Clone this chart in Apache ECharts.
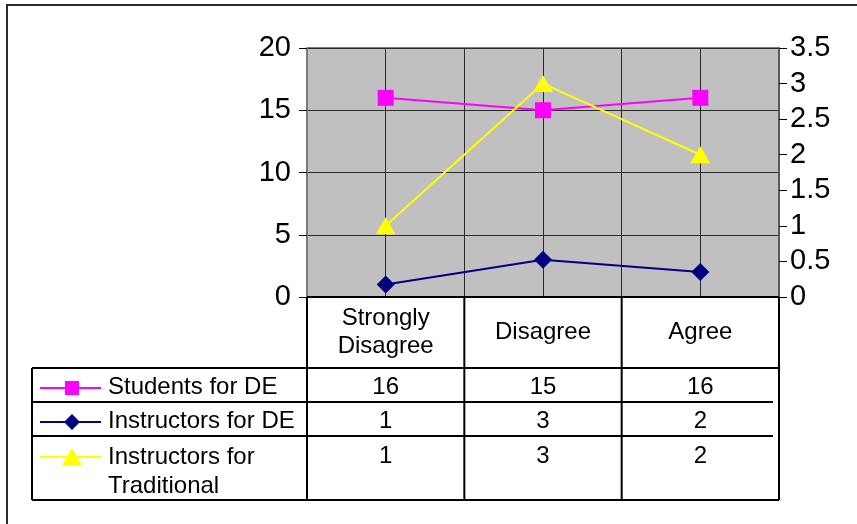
<!DOCTYPE html>
<html>
<head>
<meta charset="utf-8">
<script src="https://cdn.jsdelivr.net/npm/echarts@6/dist/echarts.min.js"></script>
<style>
  html, body { margin: 0; padding: 0; background: #fff; }
  #chart { width: 857px; height: 524px; }
</style>
</head>
<body>
<div id="chart"></div>
<script>
// Survey responses by agreement level
const categories = ['Strongly\nDisagree', 'Disagree', 'Agree'];
const seriesNames = ['Students for DE', 'Instructors for DE', 'Instructors for\nTraditional'];
const studentsDE = [16, 15, 16];
const instructorsDE = [1, 3, 2];
const instructorsTraditional = [1, 3, 2];
// Axis scales (left: students/instructors for DE, right: instructors for traditional)
const leftAxisTicks = { min: 0, max: 20, interval: 5 };
const rightAxisTicks = { min: 0, max: 3.5, interval: 0.5 };

const FONT = '"Liberation Sans", Arial, sans-serif';
const TABLE_FONT_SIZE = 24;
const AXIS_FONT_SIZE = 29;
const colors = ['#FF00FF', '#000080', '#FFFF00'];
const symbols = ['rect', 'diamond', 'triangle'];
const symbolSizes = [[16, 16], [18, 18], [20, 17]];
const seriesData = [studentsDE, instructorsDE, instructorsTraditional];
const seriesAxis = [0, 0, 1];

const chart = echarts.init(document.getElementById('chart'), null, { renderer: 'canvas' });

const baseOption = {
  animation: false,
  grid: {
    left: 307, right: 78, top: 48, bottom: 227,
    show: true, backgroundColor: '#C0C0C0', borderColor: '#000', borderWidth: 1
  },
  xAxis: [
    {
      type: 'category', data: categories, boundaryGap: true, position: 'bottom',
      axisLine: { show: false }, axisTick: { show: false, interval: 0 },
      axisLabel: {
        interval: 0, margin: 35, verticalAlign: 'middle', lineHeight: 28,
        fontFamily: FONT, fontSize: TABLE_FONT_SIZE, color: '#000'
      },
      splitLine: { show: true, interval: 0, lineStyle: { color: '#000', width: 1 } }
    },
    {
      // half-category gridlines through each category centre
      type: 'value', min: 0, max: categories.length, interval: 0.5, position: 'top',
      axisLine: { show: false }, axisTick: { show: false }, axisLabel: { show: false },
      splitLine: { show: true, lineStyle: { color: '#2a2a2a', width: 1 } }
    }
  ],
  yAxis: [
    {
      type: 'value', position: 'left', ...leftAxisTicks,
      axisLine: { show: true, lineStyle: { color: '#7a7a7a', width: 2 } },
      axisTick: { show: true, length: 8, lineStyle: { color: '#000', width: 1 } },
      axisLabel: { margin: 16, fontFamily: FONT, fontSize: AXIS_FONT_SIZE, color: '#000' },
      splitLine: { show: true, lineStyle: { color: '#2a2a2a', width: 1 } }
    },
    {
      type: 'value', position: 'right', ...rightAxisTicks,
      axisLine: { show: true, lineStyle: { color: '#5a5a5a', width: 2 } },
      axisTick: { show: true, length: 8, lineStyle: { color: '#000', width: 1 } },
      axisLabel: { margin: 11, fontFamily: FONT, fontSize: AXIS_FONT_SIZE, color: '#000' },
      splitLine: { show: false }
    }
  ],
  series: seriesNames.map((name, i) => ({
    name: name,
    type: 'line',
    data: seriesData[i],
    xAxisIndex: 0,
    yAxisIndex: seriesAxis[i],
    symbol: symbols[i],
    symbolSize: symbolSizes[i],
    showAllSymbol: true,
    z: 3 + i,
    lineStyle: { color: colors[i], width: 2 },
    itemStyle: { color: colors[i], borderWidth: 0 }
  }))
};

chart.setOption(baseOption);

// Data table beneath the plot, aligned with the category scale
const edgeX = v => chart.convertToPixel({ xAxisIndex: 1 }, v);
const centreX = i => chart.convertToPixel({ xAxisIndex: 0 }, i);
const plotBottom = chart.convertToPixel({ yAxisIndex: 0 }, leftAxisTicks.min);

const tableLeft = 32;
const rowEdges = [368, 402, 436, 500];
const rowTextY = [387, 421, 456];
const keyY = [388, 422, 457];
const tableRight = edgeX(categories.length);

const graphics = [];
const line = (x1, y1, x2, y2, w, c) => graphics.push({
  type: 'line', silent: true, z: 10,
  shape: { x1: x1, y1: y1, x2: x2, y2: y2 },
  style: { stroke: c || '#000', lineWidth: w || 2 }
});

// outer frame
graphics.push({
  type: 'rect', silent: true, z: 0,
  shape: { x: 7, y: 5, width: 900, height: 600 },
  style: { fill: 'none', stroke: '#2a2a2a', lineWidth: 2 }
});

// table rules
line(edgeX(0), plotBottom, tableRight, plotBottom, 2);
for (let k = 0; k <= categories.length; k++) {
  line(edgeX(k), plotBottom, edgeX(k), rowEdges[rowEdges.length - 1], 2);
}
rowEdges.forEach((y, r) => {
  // inner row separators stop just short of the right border
  const inner = r > 0 && r < rowEdges.length - 1;
  line(tableLeft, y, inner ? tableRight - 6 : tableRight, y, 2);
});
line(tableLeft, rowEdges[0], tableLeft, rowEdges[rowEdges.length - 1], 2);

// legend keys and row labels
const keyX1 = 40, keyX2 = 101, keyMid = 72;
seriesNames.forEach((name, i) => {
  line(keyX1, keyY[i], keyX2, keyY[i], 2, colors[i]);
  if (i === 0) {
    graphics.push({ type: 'rect', silent: true, z: 11,
      shape: { x: keyMid - 7, y: keyY[i] - 7, width: 14, height: 14 },
      style: { fill: colors[i] } });
  } else if (i === 1) {
    graphics.push({ type: 'polygon', silent: true, z: 11,
      shape: { points: [[keyMid, keyY[i] - 8], [keyMid + 8, keyY[i]], [keyMid, keyY[i] + 8], [keyMid - 8, keyY[i]]] },
      style: { fill: colors[i] } });
  } else {
    graphics.push({ type: 'polygon', silent: true, z: 11,
      shape: { points: [[keyMid, keyY[i] - 9], [keyMid + 10, keyY[i] + 8], [keyMid - 10, keyY[i] + 8]] },
      style: { fill: colors[i] } });
  }
  const multi = name.indexOf('\n') >= 0;
  graphics.push({
    type: 'text', silent: true, z: 11,
    x: 108, y: multi ? keyY[i] - 14 : rowTextY[i],
    style: {
      text: name, fill: '#000', font: TABLE_FONT_SIZE + 'px ' + FONT,
      align: 'left', verticalAlign: multi ? 'top' : 'middle', lineHeight: 29
    }
  });
  seriesData[i].forEach((v, j) => {
    graphics.push({
      type: 'text', silent: true, z: 11,
      x: centreX(j), y: rowTextY[i],
      style: {
        text: String(v), fill: '#000', font: TABLE_FONT_SIZE + 'px ' + FONT,
        align: 'center', verticalAlign: 'middle'
      }
    });
  });
});

chart.setOption({ graphic: graphics });
</script>
</body>
</html>
